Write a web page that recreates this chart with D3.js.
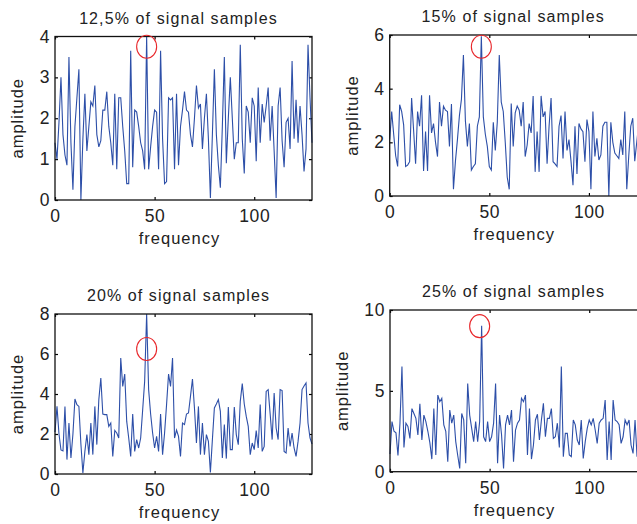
<!DOCTYPE html>
<html>
<head>
<meta charset="utf-8">
<script src="https://cdn.jsdelivr.net/npm/d3@7"></script>
<style>
  body { margin: 0; background: #fff; }
  svg { display: block; }
  text { font-family: "Liberation Sans", Arial, sans-serif; fill: #222; }
</style>
</head>
<body>
<svg id="chart" width="637" height="524"></svg>
<script>
// spectrum amplitudes, one per frequency bin
let amp125 = [1.4,1.0,1.9,3.0,1.6,1.1,0.85,3.5,1.4,0.25,
  1.8,2.5,3.2,0.0,1.5,2.6,1.2,1.8,2.4,2.3,
  2.8,1.6,1.3,1.45,2.2,2.2,2.65,1.8,1.4,0.85,
  2.6,0.75,2.5,2.5,1.8,1.2,0.4,0.4,3.65,0.8,
  2.2,2.15,1.8,1.4,1.2,0.75,4.0,0.75,1.3,1.8,
  2.2,2.15,0.75,3.65,1.5,0.4,0.45,2.5,2.45,2.5,
  0.75,2.6,0.85,1.8,2.2,2.65,2.2,2.15,1.6,1.3,
  2.0,2.8,2.25,2.35,1.25,2.0,2.6,1.5,0.05,1.6,
  3.2,1.6,0.85,0.3,1.8,3.5,0.9,2.0,3.0,2.0,
  1.0,1.4,1.4,3.8,1.5,0.65,2.3,2.15,1.4,2.5,
  2.3,0.95,2.75,1.4,2.35,1.9,2.3,2.75,1.45,2.3,
  1.2,0.05,2.3,2.75,1.45,0.8,1.9,2.0,1.25,3.4,
  1.5,2.45,1.4,2.3,1.6,0.7,1.25,3.8,2.5,1.4]

let amp15 = [2.1,3.15,2.3,1.5,1.1,3.4,3.15,2.65,1.1,1.15,
  1.28,3.65,2.45,1.2,3.15,2.6,3.75,0.93,2.4,0.93,
  3.75,2.35,2.7,2.0,1.47,3.5,2.6,3.35,3.2,3.15,
  1.85,3.43,0.25,1.3,2.1,3.0,3.6,5.25,2.8,1.85,
  2.7,0.97,1.1,1.2,2.6,2.95,5.95,2.95,2.3,1.85,
  1.1,0.97,2.75,1.7,2.75,5.25,3.5,3.15,2.0,0.7,
  0.25,3.45,1.85,3.1,3.35,3.2,2.6,3.5,1.47,1.9,
  2.7,2.35,3.73,0.9,2.4,0.9,3.73,2.95,3.15,1.2,
  2.6,3.65,1.28,1.2,1.1,2.6,3.0,1.4,3.15,1.7,
  2.1,1.3,0.4,2.6,0.82,2.7,2.5,2.4,1.28,2.85,
  2.4,0.25,3.15,1.47,2.15,1.34,1.53,2.6,2.75,2.75,
  0.0,2.75,2.0,1.6,1.5,1.4,2.1,1.53,3.15,0.25,
  1.5,2.6,2.9,1.3,2.0,2.7,2.5]

let amp20 = [2.1,3.38,2.0,1.2,1.15,3.38,0.72,2.55,0.8,2.0,
  3.75,3.47,3.38,1.5,0.05,1.13,1.97,0.97,2.55,0.97,
  3.38,1.47,3.72,4.8,3.0,2.97,2.97,2.38,2.55,0.88,
  2.18,2.05,1.8,5.8,4.38,5.0,2.63,1.8,0.88,3.0,
  1.13,1.72,1.3,1.8,3.2,4.63,8.0,4.22,3.0,2.05,
  1.3,1.88,1.13,3.0,0.97,2.05,3.47,5.0,4.38,5.8,
  1.8,2.2,1.88,0.88,2.55,2.47,3.0,3.05,3.88,4.75,
  3.3,1.55,3.38,0.97,2.55,0.97,1.97,1.63,0.08,1.72,
  3.3,3.5,3.72,3.13,0.8,2.47,0.77,3.35,1.22,1.22,
  3.35,1.97,1.47,3.63,4.52,3.5,2.88,2.38,0.97,1.55,
  1.22,2.17,1.3,3.47,1.13,1.38,4.13,4.22,3.0,1.72,
  4.05,2.3,1.72,4.22,4.17,1.13,1.05,2.3,1.38,2.05,
  1.3,0.88,1.63,2.55,4.22,4.4,4.55,2.55,1.8,1.5]

let amp25 = [1.1,3.1,2.5,2.4,1.0,3.0,6.5,1.5,3.0,2.8,
  2.06,3.9,3.6,3.3,2.27,4.2,1.96,3.5,3.1,2.5,
  1.8,0.78,3.9,1.03,4.74,4.33,4.54,2.9,2.5,0.62,
  3.81,3.0,3.5,1.86,1.0,0.2,3.6,3.2,0.52,5.46,
  3.5,2.68,1.86,3.1,1.86,3.1,9.03,2.16,1.86,3.1,
  1.86,2.16,3.0,5.46,0.52,3.5,2.27,0.2,2.9,3.5,
  2.9,3.81,0.62,2.58,3.0,3.2,4.54,4.33,4.74,1.03,
  3.9,0.78,1.65,3.2,3.55,1.96,3.2,4.23,2.16,3.3,
  3.3,3.9,2.06,2.16,3.0,1.5,6.5,0.93,2.37,2.37,
  1.03,0.93,3.2,2.9,1.96,1.65,3.2,0.82,1.86,2.68,
  3.2,2.9,3.3,2.58,1.75,3.0,3.2,3.3,4.43,0.72,
  3.1,0.72,4.43,3.2,3.1,2.9,1.75,2.16,3.2,2.9,
  3.2,1.65,1.13,3.2,0.93,2.0,2.5]

let titles = ["12,5% of signal samples", "15% of signal samples", "20% of signal samples", "25% of signal samples"]
let yMax = [4, 6, 8, 10]
let yTicks = [[0, 1, 2, 3, 4], [0, 2, 4, 6], [0, 2, 4, 6, 8], [0, 5, 10]]
let xMax = 129
let xTicks = [0, 50, 100]

// where the red circle sits in each panel (frequency, amplitude)
let markerX = [46, 46, 46, 45]
let markerY = [3.75, 5.56, 6.25, 9.0]

let series = [amp125, amp15, amp20, amp25]

// panel boxes in pixels
let panels = [
  { left: 55, top: 36.5, width: 257, height: 163.5 },
  { left: 389.7, top: 35, width: 257, height: 161 },
  { left: 55, top: 314, width: 257, height: 160 },
  { left: 390, top: 310, width: 257, height: 161.7 }
]

let svg = d3.select("#chart")

function drawPanel(k) {
  let p = panels[k]
  let g = svg.append("g")
    .attr("transform", `translate(${p.left},${p.top})`)

  let xScale = d3.scaleLinear().domain([0, xMax]).range([0, p.width])
  let yScale = d3.scaleLinear().domain([0, yMax[k]]).range([p.height, 0])

  // ticks point inward on all four sides, like matlab
  let xBottom = d3.axisBottom(xScale).tickValues(xTicks).tickFormat(d3.format("d"))
    .tickSizeInner(-3).tickSizeOuter(0).tickPadding(10)
  let xTop = d3.axisTop(xScale).tickValues(xTicks).tickSizeInner(-3).tickSizeOuter(0).tickFormat("")
  let yLeft = d3.axisLeft(yScale).tickValues(yTicks[k]).tickFormat(d3.format("d"))
    .tickSizeInner(-3).tickSizeOuter(0).tickPadding(5)
  let yRight = d3.axisRight(yScale).tickValues(yTicks[k]).tickSizeInner(-3).tickSizeOuter(0).tickFormat("")

  g.append("g").attr("transform", `translate(0,${p.height})`).call(xBottom)
  g.append("g").call(xTop)
  g.append("g").call(yLeft)
  g.append("g").attr("transform", `translate(${p.width},0)`).call(yRight)

  g.selectAll(".domain").remove()
  g.selectAll(".tick line").attr("stroke", "#000").attr("stroke-width", 1.2)
  g.selectAll(".tick text")
    .style("font-size", "17.5px")
    .style("letter-spacing", "0.6px")
    .attr("fill", "#222")

  // the spectrum
  let line = d3.line()
    .x(function (d, i) { return xScale(i) })
    .y(function (d) { return yScale(d) })

  g.append("path")
    .datum(series[k])
    .attr("d", line)
    .attr("fill", "none")
    .attr("stroke", "#2d4fa8")
    .attr("stroke-width", 1.1)
    .attr("stroke-linejoin", "miter")

  // box
  g.append("rect")
    .attr("width", p.width)
    .attr("height", p.height)
    .attr("fill", "none")
    .attr("stroke", "#111")
    .attr("stroke-width", 1.3)

  // red marker round the main peak
  g.append("ellipse")
    .attr("cx", xScale(markerX[k]))
    .attr("cy", yScale(markerY[k]))
    .attr("rx", 10)
    .attr("ry", 11.5)
    .attr("fill", "none")
    .attr("stroke", "#e8262a")
    .attr("stroke-width", 1.1)

  // title
  g.append("text")
    .attr("x", p.width / 2 - 5)
    .attr("y", -13)
    .attr("text-anchor", "middle")
    .style("font-size", "16px")
    .style("letter-spacing", "1.1px")
    .text(titles[k])

  // x label
  g.append("text")
    .attr("x", p.width / 2 - 4)
    .attr("y", p.height + 44)
    .attr("text-anchor", "middle")
    .style("font-size", "16.5px")
    .style("letter-spacing", "1px")
    .text("frequency")

  // y label
  let yLabelX = k == 3 ? -42 : -32
  g.append("text")
    .attr("transform", `translate(${yLabelX},${p.height / 2}) rotate(-90)`)
    .attr("text-anchor", "middle")
    .style("font-size", "16.5px")
    .style("letter-spacing", "1px")
    .text("amplitude")
}

for (let k = 0; k < 4; k++) {
  drawPanel(k)
}
</script>
</body>
</html>
